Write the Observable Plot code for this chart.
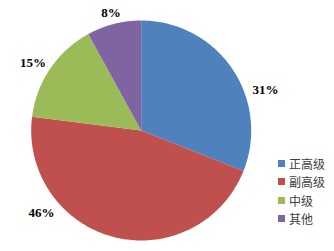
<!DOCTYPE html>
<html><head><meta charset="utf-8">
<script src="https://cdn.jsdelivr.net/npm/d3@7"></script>
<script src="https://cdn.jsdelivr.net/npm/@observablehq/plot@0.6"></script>
<style>
html,body{margin:0;padding:0;background:#fff;}
#wrap{position:relative;width:334px;height:251px;}
#legend{position:absolute;left:278px;top:154px;font-family:"Noto Sans CJK SC",sans-serif;font-size:12px;color:#404040;}
#legend .item{display:flex;align-items:center;height:18.5px;}
#legend .sw{width:7px;height:7px;margin-right:4px;}
</style></head>
<body><div id="wrap"><div id="chart"></div><div id="legend"></div></div>
<script>
const categories = ["正高级", "副高级", "中级", "其他"];
const values = [31, 46, 15, 8];
const labels = ["31%", "46%", "15%", "8%"];
const colors = ["#4F81BD", "#C0504D", "#9BBB59", "#8064A2"];

// layout (not data)
const W = 334, H = 251, cx = 140.7, cy = 130, R = 110;
const labelShift = [16, 36, -2, 0]; // degrees, best-fit label placement
const labelRadius = [1.19, 1.175, 1.163, 1.10];

const pie = d3.pie().sort(null).value(d => d)(values);
const pts = [];
pie.forEach((p, i) => {
  const n = 120;
  pts.push({cat: categories[i], x: 0, y: 0});
  for (let k = 0; k <= n; k++) {
    const a = p.startAngle + (p.endAngle - p.startAngle) * k / n;
    pts.push({cat: categories[i], x: Math.sin(a), y: Math.cos(a)});
  }
  pts.push({cat: categories[i], x: 0, y: 0});
});
const labelData = pie.map((p, i) => {
  const a = (p.startAngle + p.endAngle) / 2 + labelShift[i] * Math.PI / 180;
  return {label: labels[i], x: labelRadius[i] * Math.sin(a), y: labelRadius[i] * Math.cos(a)};
});

const chart = Plot.plot({
  width: W, height: H,
  margin: 0,
  x: {domain: [-cx / R, (W - cx) / R], axis: null},
  y: {domain: [-(H - cy) / R, cy / R], axis: null},
  color: {domain: categories, range: colors},
  marks: [
    Plot.line(pts, {x: "x", y: "y", z: "cat", fill: "cat", stroke: "none", curve: "linear"}),
    Plot.text(labelData, {x: "x", y: "y", text: "label", fontFamily: "Liberation Serif", fontWeight: "bold", fontSize: 13, fill: "#000"})
  ],
  style: {background: "#fff"}
});
document.getElementById("chart").appendChild(chart);

const leg = document.getElementById("legend");
categories.forEach((c, i) => {
  const it = document.createElement("div"); it.className = "item";
  const sw = document.createElement("div"); sw.className = "sw"; sw.style.background = colors[i];
  const t = document.createElement("span"); t.textContent = c;
  it.appendChild(sw); it.appendChild(t); leg.appendChild(it);
});
</script></body></html>
